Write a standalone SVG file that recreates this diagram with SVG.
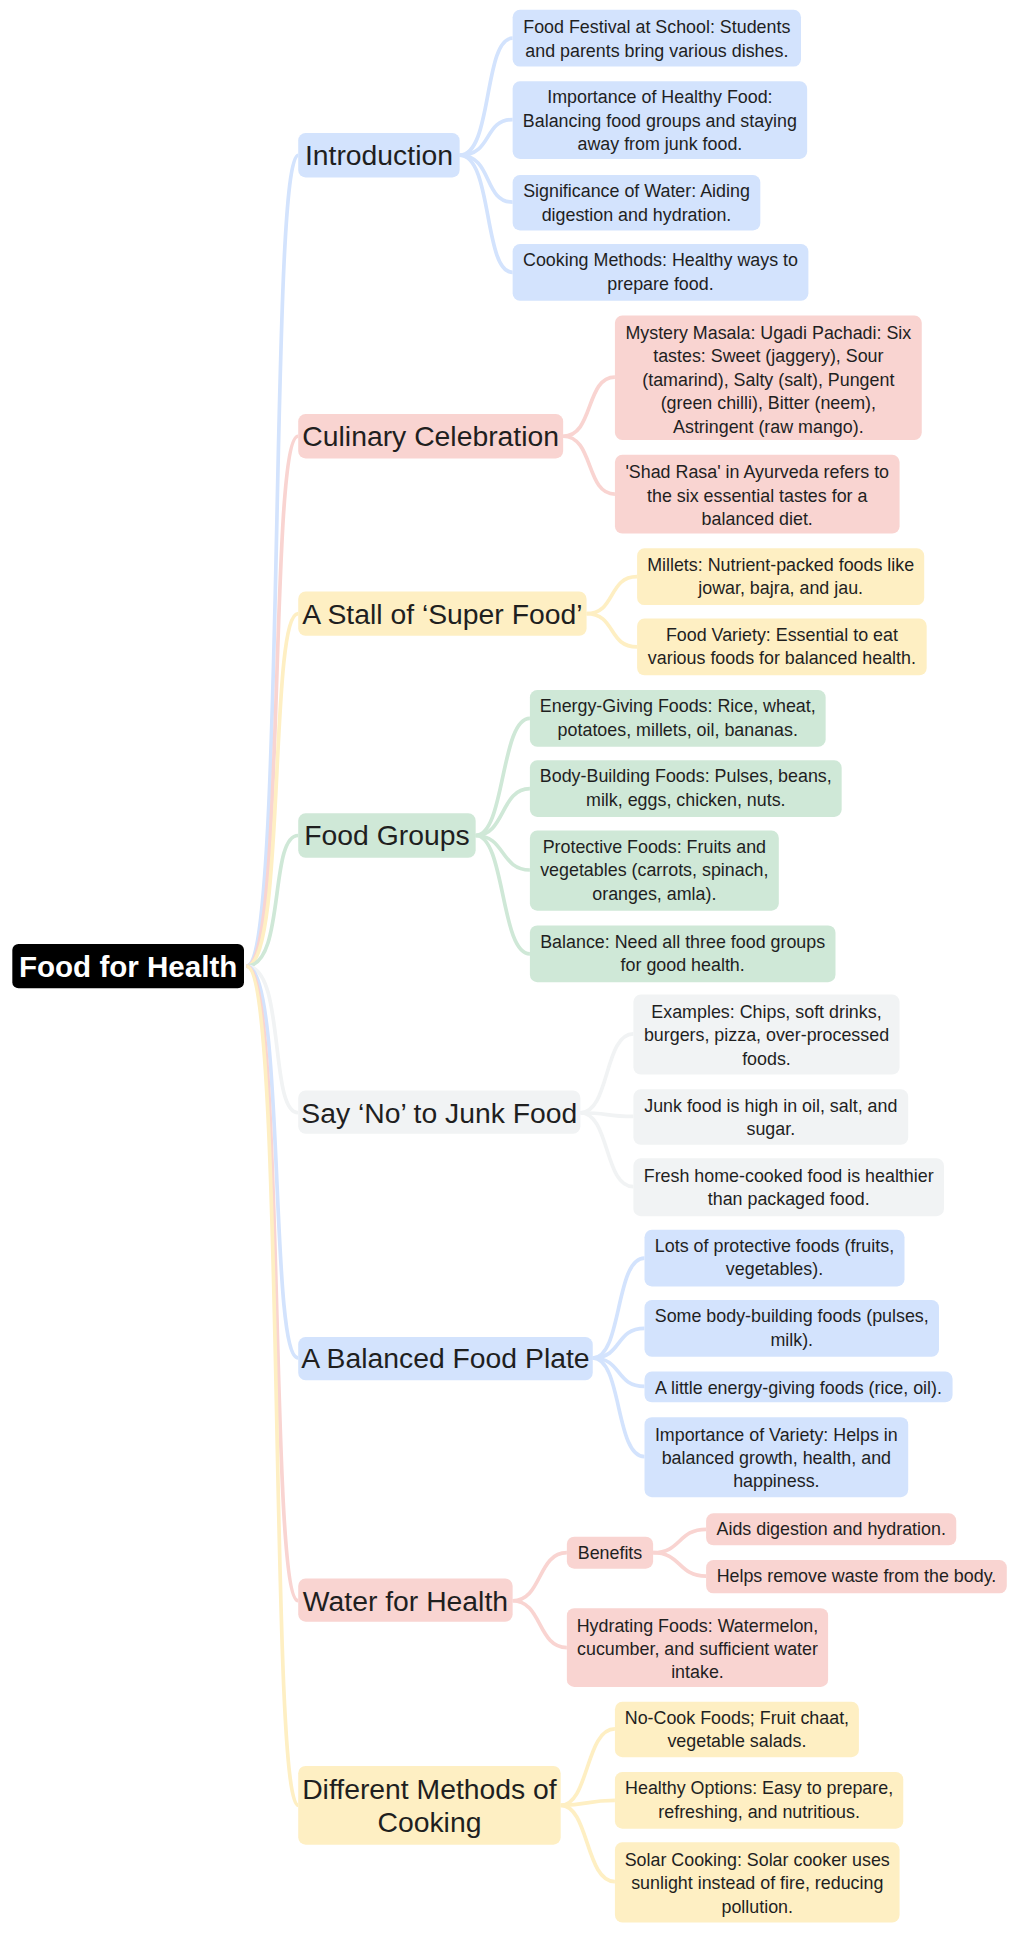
<svg xmlns="http://www.w3.org/2000/svg" width="1024" height="1947" viewBox="0 0 1024 1947">
<style>
text{font-family:"Liberation Sans",Arial,sans-serif;fill:#1f1f1f;text-anchor:middle}
.b{font-size:23px}.l{font-size:14.5px}
.r{font-size:24px;font-weight:bold;fill:#fff}
.cb{fill:#d3e3fd}.cr{fill:#f9d4d1}.cy{fill:#feefc3}.cg{fill:#cfe8d7}.cw{fill:#f1f3f4}
path{fill:none;stroke-width:3}
.sb{stroke:#d3e3fd}.sr{stroke:#f9d4d1}.sy{stroke:#feefc3}.sg{stroke:#cfe8d7}.sw{stroke:#f1f3f4}
</style>
<rect width="1024" height="1947" fill="#fff"/>
<g transform="scale(1.2323)">
<g id="connectors">
<path class="sb" d="M200,784 C232,784 218,126 242,126"/>
<path class="sr" d="M200,784 C232,784 218,354 242,354"/>
<path class="sy" d="M200,784 C232,784 218,498 242,498"/>
<path class="sg" d="M200,784 C232,784 218,678 242,678"/>
<path class="sw" d="M200,784 C232,784 218,903 242,903"/>
<path class="sb" d="M200,784 C232,784 218,1102 242,1102"/>
<path class="sr" d="M200,784 C232,784 218,1299 242,1299"/>
<path class="sy" d="M200,784 C232,784 218,1465 242,1465"/>
<path class="sb" d="M373,126 C400,126 392,31 416,31"/>
<path class="sb" d="M373,126 C400,126 392,97 416,97"/>
<path class="sb" d="M373,126 C400,126 392,164 416,164"/>
<path class="sb" d="M373,126 C400,126 392,221 416,221"/>
<path class="sr" d="M457,354 C482,354 475,306 499,306"/>
<path class="sr" d="M457,354 C482,354 475,401 499,401"/>
<path class="sy" d="M476,498 C500,498 493,468 517,468"/>
<path class="sy" d="M476,498 C500,498 493,525 517,525"/>
<path class="sg" d="M386,678 C410,678 406,583 430,583"/>
<path class="sg" d="M386,678 C410,678 406,640 430,640"/>
<path class="sg" d="M386,678 C410,678 406,706 430,706"/>
<path class="sg" d="M386,678 C410,678 406,774 430,774"/>
<path class="sw" d="M471,903 C495,903 490,839 514,839"/>
<path class="sw" d="M471,903 C495,903 490,906 514,906"/>
<path class="sw" d="M471,903 C495,903 490,963 514,963"/>
<path class="sb" d="M481,1102 C505,1102 499,1021 523,1021"/>
<path class="sb" d="M481,1102 C505,1102 499,1078 523,1078"/>
<path class="sb" d="M481,1102 C505,1102 499,1125 523,1125"/>
<path class="sb" d="M481,1102 C505,1102 499,1182 523,1182"/>
<path class="sr" d="M416,1299 C440,1299 436,1260 460,1260"/>
<path class="sr" d="M416,1299 C440,1299 436,1337 460,1337"/>
<path class="sr" d="M530,1260 C553,1260 550,1241 573,1241"/>
<path class="sr" d="M530,1260 C553,1260 550,1279 573,1279"/>
<path class="sy" d="M455,1465 C478,1465 475,1403 499,1403"/>
<path class="sy" d="M455,1465 C478,1465 475,1461 499,1461"/>
<path class="sy" d="M455,1465 C478,1465 475,1527 499,1527"/>
</g>
<g id="root"><rect x="10" y="766" width="188" height="36" rx="5" fill="#000"/><text class="r" x="104" y="793">Food for Health</text></g>

<g id="intro"><rect class="cb" x="242" y="108" width="131" height="36" rx="6"/><text class="b" x="307.5" y="134">Introduction</text></g>
<g id="intro1"><rect class="cb" x="416" y="8" width="234" height="46" rx="6"/><text class="l" x="533" y="27">Food Festival at School: Students</text><text class="l" x="533" y="46">and parents bring various dishes.</text></g>
<g id="intro2"><rect class="cb" x="416" y="66" width="239" height="63" rx="6"/><text class="l" x="535.5" y="84">Importance of Healthy Food:</text><text class="l" x="535.5" y="103">Balancing food groups and staying</text><text class="l" x="535.5" y="122">away from junk food.</text></g>
<g id="intro3"><rect class="cb" x="416" y="142" width="201" height="45" rx="6"/><text class="l" x="516.5" y="160">Significance of Water: Aiding</text><text class="l" x="516.5" y="179">digestion and hydration.</text></g>
<g id="intro4"><rect class="cb" x="416" y="198" width="240" height="46" rx="6"/><text class="l" x="536" y="216">Cooking Methods: Healthy ways to</text><text class="l" x="536" y="235">prepare food.</text></g>

<g id="culinary"><rect class="cr" x="242" y="336" width="215" height="36" rx="6"/><text class="b" x="349.5" y="362">Culinary Celebration</text></g>
<g id="cul1"><rect class="cr" x="499" y="256" width="249" height="101" rx="6"/><text class="l" x="623.5" y="275">Mystery Masala: Ugadi Pachadi: Six</text><text class="l" x="623.5" y="294">tastes: Sweet (jaggery), Sour</text><text class="l" x="623.5" y="313">(tamarind), Salty (salt), Pungent</text><text class="l" x="623.5" y="332">(green chilli), Bitter (neem),</text><text class="l" x="623.5" y="351">Astringent (raw mango).</text></g>
<g id="cul2"><rect class="cr" x="499" y="369" width="231" height="64" rx="6"/><text class="l" x="614.5" y="388">'Shad Rasa' in Ayurveda refers to</text><text class="l" x="614.5" y="407">the six essential tastes for a</text><text class="l" x="614.5" y="426">balanced diet.</text></g>

<g id="super"><rect class="cy" x="242" y="480" width="234" height="36" rx="6"/><text class="b" x="359" y="506">A Stall of ‘Super Food’</text></g>
<g id="sup1"><rect class="cy" x="517" y="445" width="233" height="46" rx="6"/><text class="l" x="633.5" y="463">Millets: Nutrient-packed foods like</text><text class="l" x="633.5" y="482">jowar, bajra, and jau.</text></g>
<g id="sup2"><rect class="cy" x="517" y="502" width="235" height="46" rx="6"/><text class="l" x="634.5" y="520">Food Variety: Essential to eat</text><text class="l" x="634.5" y="539">various foods for balanced health.</text></g>

<g id="groups"><rect class="cg" x="242" y="660" width="144" height="36" rx="6"/><text class="b" x="314" y="686">Food Groups</text></g>
<g id="grp1"><rect class="cg" x="430" y="560" width="240" height="46" rx="6"/><text class="l" x="550" y="578">Energy-Giving Foods: Rice, wheat,</text><text class="l" x="550" y="597">potatoes, millets, oil, bananas.</text></g>
<g id="grp2"><rect class="cg" x="430" y="617" width="253" height="46" rx="6"/><text class="l" x="556.5" y="635">Body-Building Foods: Pulses, beans,</text><text class="l" x="556.5" y="654">milk, eggs, chicken, nuts.</text></g>
<g id="grp3"><rect class="cg" x="430" y="674" width="202" height="65" rx="6"/><text class="l" x="531" y="692">Protective Foods: Fruits and</text><text class="l" x="531" y="711">vegetables (carrots, spinach,</text><text class="l" x="531" y="730">oranges, amla).</text></g>
<g id="grp4"><rect class="cg" x="430" y="751" width="248" height="46" rx="6"/><text class="l" x="554" y="769">Balance: Need all three food groups</text><text class="l" x="554" y="788">for good health.</text></g>

<g id="junk"><rect class="cw" x="242" y="885" width="229" height="35" rx="6"/><text class="b" x="356.5" y="911">Say ‘No’ to Junk Food</text></g>
<g id="junk1"><rect class="cw" x="514" y="807" width="216" height="65" rx="6"/><text class="l" x="622" y="826">Examples: Chips, soft drinks,</text><text class="l" x="622" y="845">burgers, pizza, over-processed</text><text class="l" x="622" y="864">foods.</text></g>
<g id="junk2"><rect class="cw" x="514" y="884" width="223" height="45" rx="6"/><text class="l" x="625.5" y="902">Junk food is high in oil, salt, and</text><text class="l" x="625.5" y="921">sugar.</text></g>
<g id="junk3"><rect class="cw" x="514" y="940" width="252" height="47" rx="6"/><text class="l" x="640" y="959">Fresh home-cooked food is healthier</text><text class="l" x="640" y="978">than packaged food.</text></g>

<g id="plate"><rect class="cb" x="242" y="1085" width="239" height="35" rx="6"/><text class="b" x="361.5" y="1110">A Balanced Food Plate</text></g>
<g id="pl1"><rect class="cb" x="523" y="998" width="211" height="46" rx="6"/><text class="l" x="628.5" y="1016">Lots of protective foods (fruits,</text><text class="l" x="628.5" y="1035">vegetables).</text></g>
<g id="pl2"><rect class="cb" x="523" y="1055" width="239" height="46" rx="6"/><text class="l" x="642.5" y="1073">Some body-building foods (pulses,</text><text class="l" x="642.5" y="1092">milk).</text></g>
<g id="pl3"><rect class="cb" x="523" y="1113" width="250" height="25" rx="6"/><text class="l" x="648" y="1131">A little energy-giving foods (rice, oil).</text></g>
<g id="pl4"><rect class="cb" x="523" y="1150" width="214" height="65" rx="6"/><text class="l" x="630" y="1169">Importance of Variety: Helps in</text><text class="l" x="630" y="1188">balanced growth, health, and</text><text class="l" x="630" y="1207">happiness.</text></g>

<g id="water"><rect class="cr" x="242" y="1281" width="174" height="35" rx="6"/><text class="b" x="329" y="1307">Water for Health</text></g>
<g id="benefits"><rect class="cr" x="460" y="1247" width="70" height="26" rx="6"/><text class="l" x="495" y="1265">Benefits</text></g>
<g id="ben1"><rect class="cr" x="573" y="1228" width="203" height="26" rx="6"/><text class="l" x="674.5" y="1246">Aids digestion and hydration.</text></g>
<g id="ben2"><rect class="cr" x="573" y="1266" width="244" height="27" rx="6"/><text class="l" x="695" y="1284">Helps remove waste from the body.</text></g>
<g id="hydr"><rect class="cr" x="460" y="1305" width="212" height="64" rx="6"/><text class="l" x="566" y="1324">Hydrating Foods: Watermelon,</text><text class="l" x="566" y="1343">cucumber, and sufficient water</text><text class="l" x="566" y="1362">intake.</text></g>

<g id="cooking"><rect class="cy" x="242" y="1433" width="213" height="64" rx="6"/><text class="b" x="348.5" y="1460">Different Methods of</text><text class="b" x="348.5" y="1487">Cooking</text></g>
<g id="ck1"><rect class="cy" x="499" y="1381" width="198" height="45" rx="6"/><text class="l" x="598" y="1399">No-Cook Foods; Fruit chaat,</text><text class="l" x="598" y="1418">vegetable salads.</text></g>
<g id="ck2"><rect class="cy" x="499" y="1438" width="234" height="46" rx="6"/><text class="l" x="616" y="1456">Healthy Options: Easy to prepare,</text><text class="l" x="616" y="1475">refreshing, and nutritious.</text></g>
<g id="ck3"><rect class="cy" x="499" y="1495" width="231" height="65" rx="6"/><text class="l" x="614.5" y="1514">Solar Cooking: Solar cooker uses</text><text class="l" x="614.5" y="1533">sunlight instead of fire, reducing</text><text class="l" x="614.5" y="1552">pollution.</text></g>
</g>
</svg>
